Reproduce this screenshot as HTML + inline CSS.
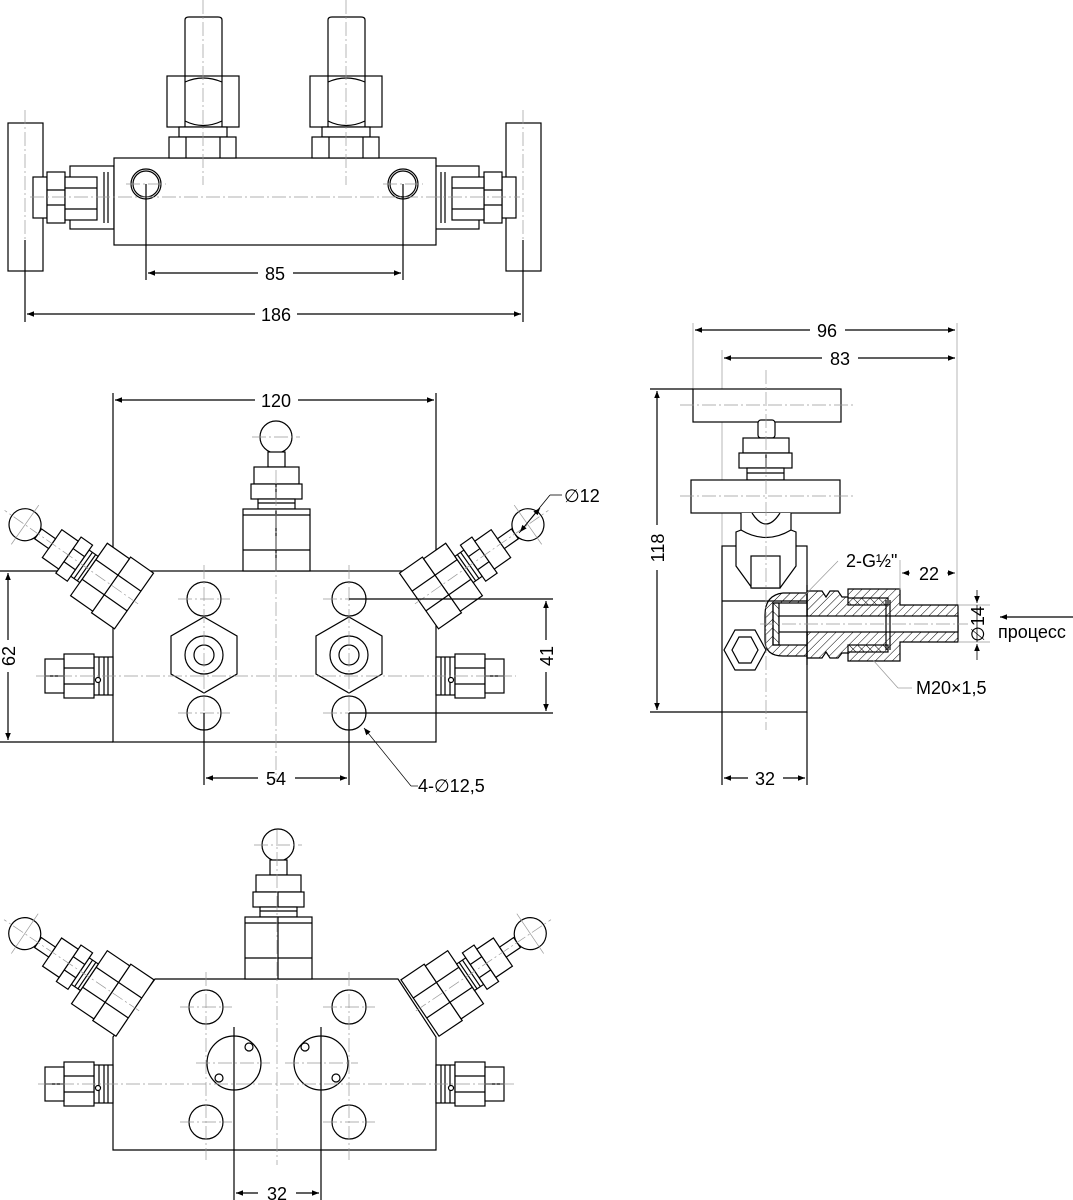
<!DOCTYPE html>
<html><head><meta charset="utf-8"><style>
html,body{margin:0;padding:0;background:#fff}
svg{display:block}
text{font-family:"Liberation Sans",sans-serif;font-size:18px;fill:#000}
</style></head><body>
<svg width="1073" height="1200" viewBox="0 0 1073 1200" xmlns="http://www.w3.org/2000/svg">
<defs>
<marker id="ar" viewBox="0 0 10 10" refX="10" refY="5" markerWidth="9" markerHeight="7" orient="auto-start-reverse" markerUnits="userSpaceOnUse"><path d="M0,1 L10,5 L0,9 z" fill="#000"/></marker>
<pattern id="hat" width="6" height="6" patternUnits="userSpaceOnUse" patternTransform="rotate(45)"><line x1="0" y1="0" x2="0" y2="6" stroke="#000" stroke-width="1"/></pattern>
<pattern id="hat2" width="6" height="6" patternUnits="userSpaceOnUse" patternTransform="rotate(-45)"><line x1="0" y1="0" x2="0" y2="6" stroke="#000" stroke-width="1"/></pattern>
<g id="av" fill="#fff" stroke="#000" stroke-width="1.2">
<rect x="0" y="-34" width="28" height="68"/><line x1="0" y1="-12" x2="28" y2="-12"/><line x1="0" y1="12" x2="28" y2="12"/>
<rect x="28" y="-32" width="27" height="64"/><line x1="28" y1="-12" x2="55" y2="-12"/><line x1="28" y1="12" x2="55" y2="12"/>
<rect x="55" y="-16" width="11" height="32"/><line x1="58" y1="-16" x2="58" y2="16"/><line x1="62" y1="-16" x2="62" y2="16"/>
<rect x="66" y="-22" width="14" height="44"/><line x1="66" y1="-8" x2="80" y2="-8"/><line x1="66" y1="8" x2="80" y2="8"/>
<rect x="80" y="-17" width="20" height="34"/>
<rect x="100" y="-6" width="17" height="12"/>
<circle cx="133" cy="0" r="16"/>
<line x1="-5" y1="0" x2="158" y2="0" stroke="#999" stroke-width="0.7" stroke-dasharray="12,3,2,3"/>
<line x1="133" y1="-24" x2="133" y2="24" stroke="#999" stroke-width="0.7"/>
</g>
<g id="sf" fill="#fff" stroke="#000" stroke-width="1.2">
<rect x="-19" y="-19" width="19" height="38"/><line x1="-14" y1="-19" x2="-14" y2="19"/><line x1="-9" y1="-19" x2="-9" y2="19"/><line x1="-5" y1="-19" x2="-5" y2="19"/>
<rect x="-49" y="-22" width="30" height="44"/><line x1="-49" y1="-8" x2="-19" y2="-8"/><line x1="-49" y1="8" x2="-19" y2="8"/>
<rect x="-68" y="-17" width="19" height="34"/><line x1="-68" y1="0" x2="-49" y2="0"/>
<circle cx="-15" cy="4" r="2.5"/>
</g>
<g id="tv" fill="#fff" stroke="#000" stroke-width="1.2">
<circle cx="0" cy="0" r="16"/>
<rect x="-8" y="15" width="17" height="15"/>
<rect x="-22" y="30" width="45" height="17"/>
<rect x="-25" y="47" width="51" height="15"/><line x1="0" y1="47" x2="0" y2="62"/>
<rect x="-18" y="62" width="37" height="10"/><line x1="-18" y1="66" x2="19" y2="66"/>
<rect x="-33" y="72" width="67" height="62"/><line x1="-33" y1="78" x2="34" y2="78"/><line x1="-33" y1="113" x2="34" y2="113"/>
<line x1="0" y1="72" x2="0" y2="134"/>
</g>
</defs>

<g fill="none" stroke="#000" stroke-width="1.2">
<!-- ===== TOP VIEW ===== -->
<g fill="#fff">
<rect x="8" y="123" width="35" height="148"/>
<rect x="506" y="123" width="35" height="148"/>
<rect x="70" y="166" width="44" height="63"/>
<rect x="435" y="166" width="44" height="63"/>
<rect x="33" y="177" width="14" height="41"/>
<rect x="47" y="172" width="18" height="51"/><line x1="47" y1="190" x2="65" y2="190"/><line x1="47" y1="205" x2="65" y2="205"/>
<rect x="65" y="177" width="32" height="43"/><line x1="65" y1="188" x2="97" y2="188"/><line x1="65" y1="209" x2="97" y2="209"/>
<line x1="104" y1="172" x2="104" y2="223"/><line x1="108" y1="172" x2="108" y2="223"/>
<rect x="502" y="177" width="14" height="41"/>
<rect x="484" y="172" width="18" height="51"/><line x1="484" y1="190" x2="502" y2="190"/><line x1="484" y1="205" x2="502" y2="205"/>
<rect x="452" y="177" width="32" height="43"/><line x1="452" y1="188" x2="484" y2="188"/><line x1="452" y1="209" x2="484" y2="209"/>
<line x1="441" y1="172" x2="441" y2="223"/><line x1="445" y1="172" x2="445" y2="223"/>
<rect x="114" y="158" width="322" height="87"/>
<path d="M185,76 V20 Q185,17 189,17 H218 Q222,17 222,20 V76"/>
<rect x="167" y="76" width="72" height="51"/><line x1="185" y1="76" x2="185" y2="127"/><line x1="222" y1="76" x2="222" y2="127"/>
<path d="M185,82 Q203,74 222,82 M185,121 Q203,130 222,121"/>
<rect x="179" y="127" width="48" height="10"/>
<rect x="169" y="137" width="67" height="21"/><line x1="186" y1="137" x2="186" y2="158"/><line x1="220" y1="137" x2="220" y2="158"/>
<path d="M328,76 V20 Q328,17 332,17 H361 Q365,17 365,20 V76"/>
<rect x="310" y="76" width="72" height="51"/><line x1="328" y1="76" x2="328" y2="127"/><line x1="365" y1="76" x2="365" y2="127"/>
<path d="M328,82 Q346,74 365,82 M328,121 Q346,130 365,121"/>
<rect x="322" y="127" width="48" height="10"/>
<rect x="312" y="137" width="67" height="21"/><line x1="329" y1="137" x2="329" y2="158"/><line x1="363" y1="137" x2="363" y2="158"/>
</g>
<circle cx="146" cy="184" r="15"/><circle cx="146" cy="184" r="13"/>
<circle cx="403" cy="184" r="15"/><circle cx="403" cy="184" r="13"/>
<g stroke="#999" stroke-width="0.7" stroke-dasharray="14,3,2,3">
<line x1="203" y1="0" x2="203" y2="185"/><line x1="346" y1="0" x2="346" y2="185"/>
<line x1="30" y1="197" x2="520" y2="197"/>
<line x1="25" y1="110" x2="25" y2="240"/><line x1="523" y1="110" x2="523" y2="240"/>
<line x1="126" y1="184" x2="166" y2="184"/><line x1="383" y1="184" x2="423" y2="184"/>
</g>
<line x1="146" y1="184" x2="146" y2="280"/><line x1="403" y1="184" x2="403" y2="280"/>
<line x1="25" y1="240" x2="25" y2="322"/><line x1="523" y1="240" x2="523" y2="322"/>
<line x1="148" y1="273" x2="258" y2="273" marker-start="url(#ar)"/><line x1="293" y1="273" x2="401" y2="273" marker-end="url(#ar)"/>
<line x1="27" y1="314" x2="255" y2="314" marker-start="url(#ar)"/><line x1="297" y1="314" x2="521" y2="314" marker-end="url(#ar)"/>

<!-- ===== MIDDLE VIEW ===== -->
<line x1="113" y1="393" x2="113" y2="571"/><line x1="436" y1="393" x2="436" y2="571"/>
<line x1="115" y1="400" x2="255" y2="400" marker-start="url(#ar)"/><line x1="298" y1="400" x2="434" y2="400" marker-end="url(#ar)"/>
<rect x="113" y="571" width="323" height="171" fill="#fff"/>
<line x1="0" y1="571" x2="113" y2="571"/>
<use href="#tv" transform="translate(276,437)"/>
<use href="#av" transform="translate(134,601) rotate(215)"/>
<use href="#av" transform="translate(553,0) scale(-1,1) translate(134,601) rotate(215)"/>
<use href="#sf" transform="translate(113,676)"/>
<use href="#sf" transform="translate(436,676) scale(-1,1)"/>
<circle cx="204" cy="599" r="17"/><circle cx="349" cy="599" r="17"/>
<circle cx="204" cy="713" r="17"/><circle cx="349" cy="713" r="17"/>
<polygon points="204,617 237,636 237,674 204,693 171,674 171,636"/>
<polygon points="349,617 382,636 382,674 349,693 316,674 316,636"/>
<circle cx="204" cy="655" r="19"/><circle cx="204" cy="655" r="10"/>
<circle cx="349" cy="655" r="19"/><circle cx="349" cy="655" r="10"/>
<g stroke="#999" stroke-width="0.7" stroke-dasharray="14,3,2,3">
<line x1="276" y1="470" x2="276" y2="780"/>
<line x1="204" y1="565" x2="204" y2="745"/><line x1="349" y1="565" x2="349" y2="745"/>
<line x1="36" y1="676" x2="516" y2="676"/>
<line x1="178" y1="599" x2="230" y2="599"/><line x1="323" y1="599" x2="349" y2="599"/>
<line x1="178" y1="713" x2="230" y2="713"/><line x1="323" y1="713" x2="349" y2="713"/>
<line x1="252" y1="437" x2="300" y2="437"/>
</g>
<line x1="0" y1="742" x2="113" y2="742"/>
<line x1="8" y1="573" x2="8" y2="640" marker-start="url(#ar)"/><line x1="8" y1="672" x2="8" y2="740" marker-end="url(#ar)"/>
<line x1="349" y1="599" x2="553" y2="599"/><line x1="349" y1="713" x2="553" y2="713"/>
<line x1="546" y1="601" x2="546" y2="640" marker-start="url(#ar)"/><line x1="546" y1="672" x2="546" y2="711" marker-end="url(#ar)"/>
<line x1="204" y1="713" x2="204" y2="785"/><line x1="349" y1="713" x2="349" y2="785"/>
<line x1="206" y1="778" x2="258" y2="778" marker-start="url(#ar)"/><line x1="295" y1="778" x2="347" y2="778" marker-end="url(#ar)"/>
<line x1="411" y1="786" x2="364" y2="728" stroke-width="0.7" marker-end="url(#ar)"/><line x1="411" y1="786" x2="418" y2="786" stroke-width="0.7"/>
<line x1="562" y1="495" x2="550" y2="495" stroke-width="0.8"/>
<line x1="550" y1="495" x2="519" y2="533" stroke-width="0.8"/>
<line x1="530" y1="520" x2="540" y2="508" marker-end="url(#ar)" stroke-width="0.8"/>
<line x1="530" y1="520" x2="520" y2="532" marker-end="url(#ar)" stroke-width="0.8"/>

<!-- ===== SIDE VIEW ===== -->
<g stroke="#999" stroke-width="0.7">
<line x1="693" y1="323" x2="693" y2="389"/><line x1="957" y1="323" x2="957" y2="605"/>
<line x1="722" y1="350" x2="722" y2="546"/>
</g>
<line x1="695" y1="330" x2="810" y2="330" marker-start="url(#ar)"/><line x1="845" y1="330" x2="955" y2="330" marker-end="url(#ar)"/>
<line x1="724" y1="358" x2="822" y2="358" marker-start="url(#ar)"/><line x1="858" y1="358" x2="955" y2="358" marker-end="url(#ar)"/>
<line x1="650" y1="389" x2="693" y2="389"/><line x1="650" y1="712" x2="722" y2="712"/>
<line x1="657" y1="391" x2="657" y2="525" marker-start="url(#ar)"/><line x1="657" y1="570" x2="657" y2="710" marker-end="url(#ar)"/>
<g fill="#fff">
<rect x="722" y="546" width="85" height="166"/>
<rect x="693" y="389" width="148" height="33"/>
<rect x="758" y="420" width="17" height="18" rx="3"/>
<rect x="743" y="438" width="46" height="15"/>
<rect x="739" y="453" width="53" height="15"/><line x1="766" y1="453" x2="766" y2="468"/>
<rect x="747" y="468" width="37" height="12"/><line x1="747" y1="473" x2="784" y2="473"/>
<rect x="691" y="480" width="149" height="33"/>
<path d="M741,513 V530 L736,532 V566 L752,588 H780 L796,566 V532 L791,530 V513"/>
<path d="M752,513 Q766,535 780,513"/>
<path d="M741,530 Q766,545 791,530"/>
<rect x="751" y="556" width="29" height="32"/>
</g>
<line x1="722" y1="601" x2="807" y2="601"/>
<polygon points="735,630 755,630 766,650 755,670 735,670 724,650" fill="#fff"/>
<polygon points="739,637 751,637 758,650 751,663 739,663 732,650"/>
<path d="M807,593 H783 Q765,595 765,615 V640 Q765,656 783,656 H807 Z" fill="url(#hat)"/>
<rect x="773" y="603" width="34" height="42" fill="#fff"/>
<rect x="773" y="603" width="6" height="42" fill="url(#hat2)"/>
<path d="M807,591 H822 L826,597 L830,591 H838 L842,597 L848,597 V589 H900 V605 H958 V642 H900 V661 H848 V653 L842,653 L838,658 H830 L826,652 L822,658 H807 Z" fill="url(#hat)"/>
<rect x="848" y="598" width="40" height="7" fill="url(#hat2)"/>
<rect x="848" y="645" width="40" height="7" fill="url(#hat2)"/>
<rect x="779" y="616" width="179" height="16" fill="#fff"/>
<line x1="886" y1="600" x2="886" y2="650"/><line x1="890" y1="600" x2="890" y2="650"/>
<line x1="807" y1="585" x2="807" y2="665"/>
<g stroke="#999" stroke-width="0.7" stroke-dasharray="14,3,2,3">
<line x1="766" y1="370" x2="766" y2="730"/>
<line x1="680" y1="405" x2="853" y2="405"/><line x1="680" y1="496" x2="853" y2="496"/>
<line x1="760" y1="624" x2="968" y2="624"/>
</g>
<line x1="722" y1="712" x2="722" y2="785"/><line x1="807" y1="712" x2="807" y2="785"/>
<line x1="724" y1="778" x2="748" y2="778" marker-start="url(#ar)"/><line x1="783" y1="778" x2="805" y2="778" marker-end="url(#ar)"/>
<line x1="900" y1="560" x2="900" y2="590" stroke="#999" stroke-width="0.7"/>
<line x1="902" y1="573" x2="910" y2="573" marker-start="url(#ar)" stroke-width="0.8"/>
<line x1="947" y1="573" x2="955" y2="573" marker-end="url(#ar)" stroke-width="0.8"/>
<line x1="958" y1="605" x2="990" y2="605" stroke="#999" stroke-width="0.7"/><line x1="958" y1="642" x2="990" y2="642" stroke="#999" stroke-width="0.7"/>
<line x1="977" y1="590" x2="977" y2="603" marker-end="url(#ar)" stroke-width="0.8"/>
<line x1="977" y1="660" x2="977" y2="644" marker-end="url(#ar)" stroke-width="0.8"/>
<line x1="977" y1="605" x2="977" y2="642" stroke-width="0.8"/>
<line x1="1073" y1="617" x2="1000" y2="617" marker-end="url(#ar)"/>
<line x1="838" y1="561" x2="800" y2="600" stroke="#999" stroke-width="0.7"/>
<line x1="873" y1="660" x2="898" y2="688" stroke="#999" stroke-width="0.7"/><line x1="898" y1="688" x2="912" y2="688" stroke="#999" stroke-width="0.7"/>

<!-- ===== BOTTOM VIEW ===== -->
<path d="M155,979 H398 L436,1037 V1150 H113 V1037 Z" fill="#fff"/>
<use href="#tv" transform="translate(278,845)"/>
<use href="#av" transform="translate(135,1008) rotate(214)"/>
<use href="#av" transform="translate(555,0) scale(-1,1) translate(135,1008) rotate(214)"/>
<use href="#sf" transform="translate(113,1084)"/>
<use href="#sf" transform="translate(436,1084) scale(-1,1)"/>
<circle cx="206" cy="1007" r="17"/><circle cx="349" cy="1007" r="17"/>
<circle cx="206" cy="1122" r="17"/><circle cx="349" cy="1122" r="17"/>
<circle cx="234" cy="1063" r="27"/><circle cx="321" cy="1063" r="27"/>
<circle cx="249" cy="1047" r="4"/><circle cx="219" cy="1078" r="4"/>
<circle cx="305" cy="1047" r="4"/><circle cx="336" cy="1078" r="4"/>
<g stroke="#999" stroke-width="0.7" stroke-dasharray="14,3,2,3">
<line x1="277" y1="830" x2="277" y2="1165"/>
<line x1="206" y1="972" x2="206" y2="1160"/><line x1="349" y1="972" x2="349" y2="1160"/>
<line x1="38" y1="1084" x2="517" y2="1084"/>
<line x1="180" y1="1007" x2="232" y2="1007"/><line x1="323" y1="1007" x2="375" y2="1007"/>
<line x1="180" y1="1122" x2="232" y2="1122"/><line x1="323" y1="1122" x2="375" y2="1122"/>
<line x1="196" y1="1063" x2="270" y2="1063"/><line x1="285" y1="1063" x2="358" y2="1063"/>
<line x1="254" y1="845" x2="302" y2="845"/>
</g>
<line x1="234" y1="1027" x2="234" y2="1200"/><line x1="321" y1="1027" x2="321" y2="1200"/>
<line x1="236" y1="1193" x2="258" y2="1193" marker-start="url(#ar)"/><line x1="296" y1="1193" x2="319" y2="1193" marker-end="url(#ar)"/>
</g>

<text x="275" y="280" text-anchor="middle">85</text>
<text x="276" y="321" text-anchor="middle">186</text>
<text x="276" y="407" text-anchor="middle">120</text>
<text x="276" y="785" text-anchor="middle">54</text>
<text x="418" y="792">4-∅12,5</text>
<text x="564" y="502">∅12</text>
<text transform="translate(15,656) rotate(-90)" text-anchor="middle">62</text>
<text transform="translate(553,656) rotate(-90)" text-anchor="middle">41</text>
<text x="827" y="337" text-anchor="middle">96</text>
<text x="840" y="365" text-anchor="middle">83</text>
<text transform="translate(664,548) rotate(-90)" text-anchor="middle">118</text>
<text x="765" y="785" text-anchor="middle">32</text>
<text x="929" y="580" text-anchor="middle">22</text>
<text x="846" y="567">2-G½"</text>
<text x="916" y="694">M20×1,5</text>
<text transform="translate(984,624) rotate(-90)" text-anchor="middle">∅14</text>
<text x="998" y="638">процесс</text>
<text x="277" y="1200" text-anchor="middle">32</text>
</svg>
</body></html>
